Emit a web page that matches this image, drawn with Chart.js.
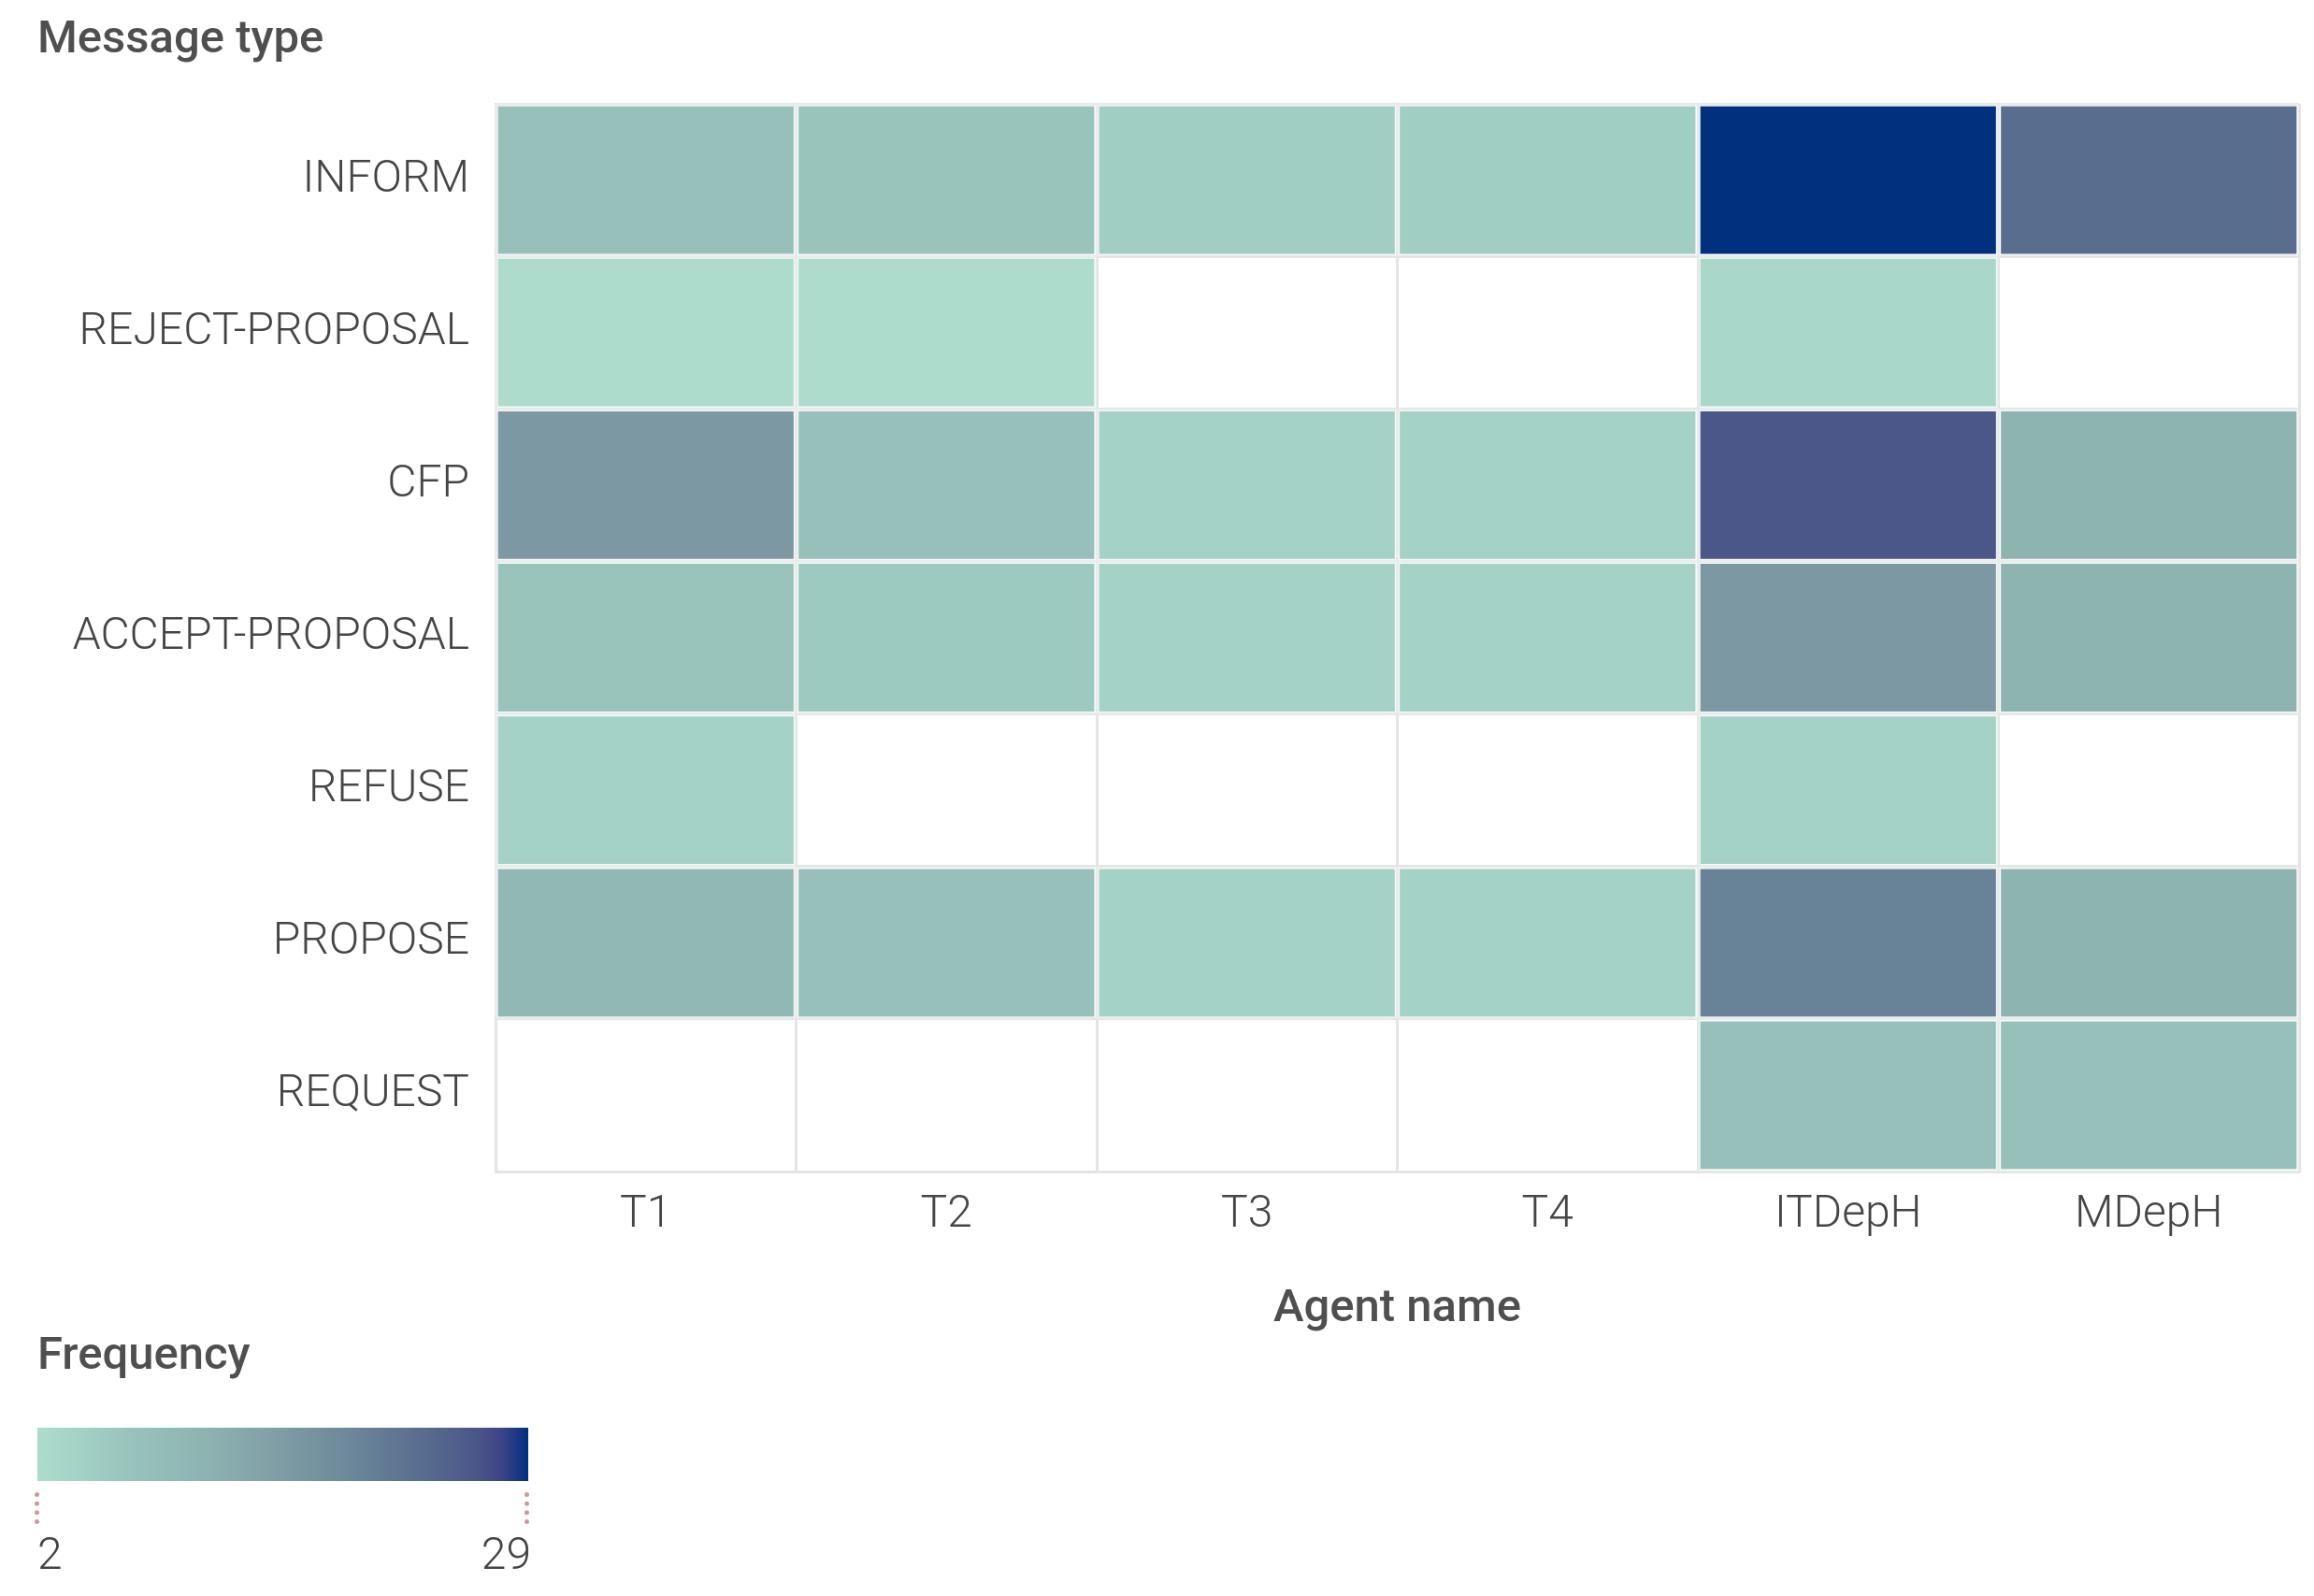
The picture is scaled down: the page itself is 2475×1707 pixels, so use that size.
<!DOCTYPE html>
<html>
<head>
<meta charset="utf-8">
<script src="https://cdn.jsdelivr.net/npm/chart.js@4/dist/chart.umd.min.js"></script>
<style>
  body { margin: 0; background: #fff; font-family: Roboto, "Noto Sans", sans-serif; }
  #wrap { position: relative; width: 2475px; height: 1707px; }
  #heat { position: absolute; left: 0; top: 0; }
  .ttl { position: absolute; left: 40px; font-size: 49px; font-weight: 500; color: #4f4f4f; line-height: 1; }
  #scaleBar { position: absolute; left: 40px; top: 1527px; width: 525px; height: 57px; }
  .mark { position: absolute; top: 1596px; height: 34px; border-left: 5px dotted #c99c9c; }
  #scaleNums { position: absolute; left: 40px; top: 1638px; width: 528px; display: flex; justify-content: space-between;
               font-size: 48px; font-weight: 300; color: #444; line-height: 1; }
</style>
</head>
<body>
<div id="wrap">
  <canvas id="heat" width="2475" height="1707"></canvas>
  <div class="ttl" style="top:15px">Message type</div>
  <div class="ttl" style="top:1423px">Frequency</div>
  <div id="scaleBar"></div>
  <div class="mark" style="left:37px"></div>
  <div class="mark" style="left:561px"></div>
  <div id="scaleNums"><span id="minNum"></span><span id="maxNum"></span></div>
</div>
<script>
// 行：メッセージ種別 / 列：エージェント
const agents = ['T1', 'T2', 'T3', 'T4', 'ITDepH', 'MDepH'];
const messageTypes = ['INFORM', 'REJECT-PROPOSAL', 'CFP', 'ACCEPT-PROPOSAL', 'REFUSE', 'PROPOSE', 'REQUEST'];

const inform         = [8, 7, 5, 5, 29, 23];
const rejectProposal = [2, 2, null, null, 3, null];
const cfp            = [16, 8, 4, 4, 26, 11];
const acceptProposal = [7, 6, 4, 4, 16, 11];
const refuse         = [4, null, null, null, 4, null];
const propose        = [10, 8, 4, 4, 20, 11];
const request        = [null, null, null, null, 8, 8];

const freqMin = 2;
const freqMax = 29;

const rows = [inform, rejectProposal, cfp, acceptProposal, refuse, propose, request];

// カラースケール
const colorStops = [
  [0.00, '#aedccc'],
  [0.10, '#a1cfc4'],
  [0.20, '#97c2bb'],
  [0.35, '#8db2b0'],
  [0.50, '#7e9ca4'],
  [0.65, '#6a8598'],
  [0.80, '#566a8e'],
  [0.90, '#4a5488'],
  [0.95, '#3a4287'],
  [1.00, '#00307e']
];

function hexToRgb(h) {
  return [parseInt(h.substr(1, 2), 16), parseInt(h.substr(3, 2), 16), parseInt(h.substr(5, 2), 16)];
}

function colorFor(v) {
  if (v == null) return 'rgba(0,0,0,0)';
  let t = (v - freqMin) / (freqMax - freqMin);
  t = Math.max(0, Math.min(1, t));
  for (let i = 1; i < colorStops.length; i++) {
    if (t <= colorStops[i][0]) {
      const [t0, c0] = colorStops[i - 1];
      const [t1, c1] = colorStops[i];
      const k = (t - t0) / (t1 - t0);
      const a = hexToRgb(c0), b = hexToRgb(c1);
      const c = a.map((x, n) => Math.round(x + (b[n] - x) * k));
      return 'rgb(' + c.join(',') + ')';
    }
  }
  return colorStops[colorStops.length - 1][1];
}

// 凡例
document.querySelector('#scaleBar').style.background =
  'linear-gradient(to right,' + colorStops.map(s => s[1] + ' ' + (s[0] * 100) + '%').join(',') + ')';
document.querySelector('#minNum').textContent = freqMin;
document.querySelector('#maxNum').textContent = freqMax;

const tickFont = { family: 'Roboto', size: 48, weight: 300 };
const gridColor = '#e4e4e4';

const datasets = agents.map((agent, j) => ({
  label: agent,
  data: rows.map(r => r[j] == null ? null : [j, j + 1]),
  backgroundColor: rows.map(r => colorFor(r[j])),
  borderColor: 'rgba(240,244,244,0.5)',
  borderWidth: 3,
  borderSkipped: false,
  barPercentage: 1,
  categoryPercentage: 1,
  grouped: false,
  xAxisID: 'x',
  yAxisID: 'y'
}));

window.onload = function () {
  let ctx = document.querySelector('#heat').getContext('2d');
  new Chart(ctx, {
    type: 'bar',
    data: { labels: messageTypes, datasets: datasets },
    options: {
      indexAxis: 'y',
      responsive: false,
      devicePixelRatio: 1,
      animation: false,
      layout: { padding: { top: 111, right: 16, bottom: 277, left: 0 } },
      plugins: {
        legend: { display: false },
        tooltip: {
          callbacks: {
            label: (c) => c.dataset.label + ': ' + rows[c.dataIndex][c.datasetIndex]
          }
        }
      },
      scales: {
        x: { type: 'linear', min: 0, max: agents.length, display: false },
        xc: {
          type: 'category',
          labels: agents,
          position: 'bottom',
          offset: true,
          grid: { offset: true, color: gridColor, lineWidth: 3, drawTicks: false },
          border: { color: gridColor, width: 3 },
          ticks: { font: tickFont, color: '#454545', padding: 18 },
          title: {
            display: true,
            text: 'Agent name',
            font: { family: 'Roboto', size: 49, weight: 500 },
            color: '#4f4f4f',
            padding: { top: 30, bottom: 0 }
          },
          afterFit: (s) => { s.height = 177; }
        },
        y: {
          type: 'category',
          position: 'left',
          offset: true,
          grid: { offset: true, color: gridColor, lineWidth: 3, drawTicks: false },
          border: { color: gridColor, width: 3 },
          ticks: { font: tickFont, color: '#454545', padding: 28 },
          afterFit: (s) => { s.width = 530; }
        }
      }
    }
  });
}
</script>
</body>
</html>
